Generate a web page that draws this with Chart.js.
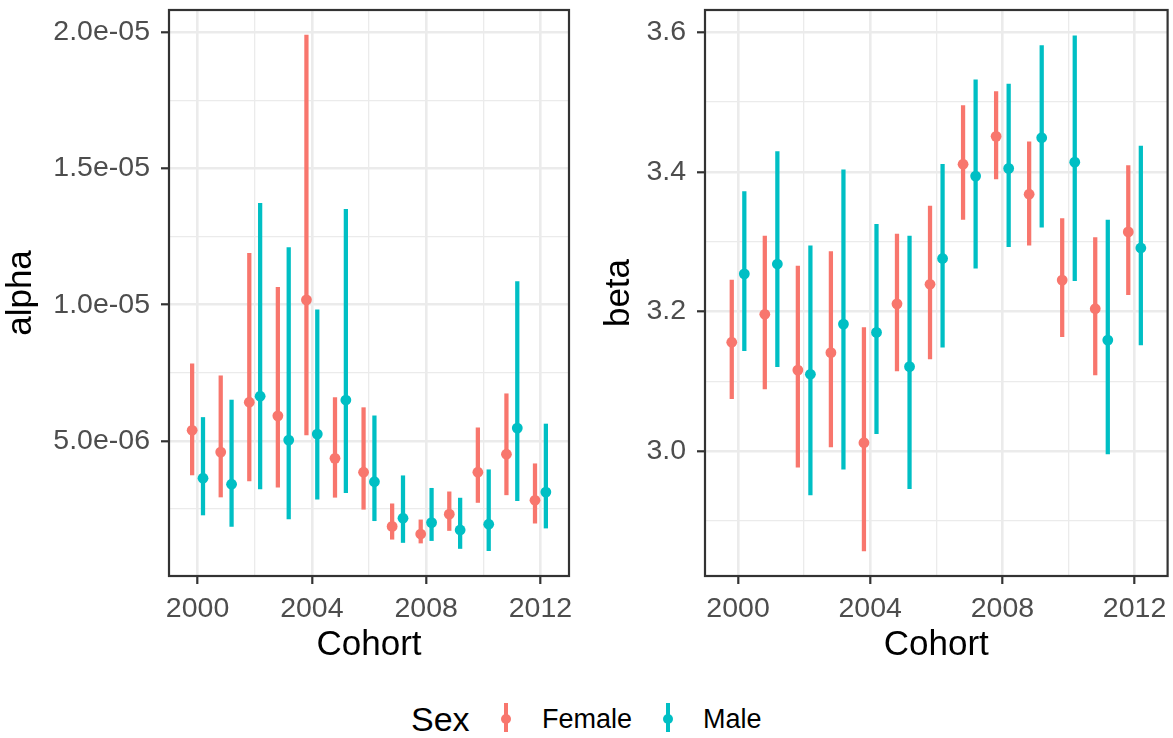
<!DOCTYPE html>
<html>
<head>
<meta charset="utf-8">
<script src="https://cdn.jsdelivr.net/npm/chart.js@4.4.1/dist/chart.umd.min.js"></script>
<style>
  body { margin: 0; background: #fff; width: 1173px; height: 738px; position: relative; overflow: hidden;
         font-family: "Liberation Sans", Arial, sans-serif; }
  canvas { position: absolute; top: 0; }
  #alphaChart { left: 0; }
  #betaChart { left: 585px; }
  .lab { position: absolute; height: 40px; line-height: 40px; top: 699px; white-space: nowrap; color: #000; }
  .keyLine { position: absolute; width: 4px; top: 703px; height: 29px; }
  .keyDot { position: absolute; width: 10px; height: 10px; border-radius: 50%; top: 714px; }
</style>
</head>
<body>
<canvas id="alphaChart" width="585" height="680"></canvas>
<canvas id="betaChart" width="588" height="680"></canvas>

<div class="lab" style="left:411px;font-size:34px;">Sex</div>
<div class="keyLine" style="left:504px;background:#F8766D"></div>
<div class="keyDot" style="left:501px;background:#F8766D"></div>
<div class="lab" style="left:542px;font-size:27px;">Female</div>
<div class="keyLine" style="left:666px;background:#00BFC4"></div>
<div class="keyDot" style="left:663px;background:#00BFC4"></div>
<div class="lab" style="left:703px;font-size:27px;">Male</div>

<script>
const cohorts = [2000, 2001, 2002, 2003, 2004, 2005, 2006, 2007, 2008, 2009, 2010, 2011, 2012];

// alpha estimates and interval ends
const alphaFemale   = [5.39e-6, 4.59e-6, 6.42e-6, 5.92e-6, 10.18e-6, 4.36e-6, 3.85e-6, 1.86e-6, 1.58e-6, 2.31e-6, 3.85e-6, 4.51e-6, 2.82e-6];
const alphaFemaleLo = [3.75e-6, 2.94e-6, 3.53e-6, 3.30e-6, 5.22e-6, 2.93e-6, 2.49e-6, 1.39e-6, 1.25e-6, 1.71e-6, 2.74e-6, 3.02e-6, 1.98e-6];
const alphaFemaleHi = [7.83e-6, 7.39e-6, 11.89e-6, 10.64e-6, 19.9e-6, 6.59e-6, 6.22e-6, 2.69e-6, 2.10e-6, 3.13e-6, 5.48e-6, 6.73e-6, 4.16e-6];
const alphaMale     = [3.63e-6, 3.41e-6, 6.64e-6, 5.03e-6, 5.25e-6, 6.50e-6, 3.50e-6, 2.16e-6, 2.00e-6, 1.73e-6, 1.94e-6, 5.47e-6, 3.12e-6];
const alphaMaleLo   = [2.28e-6, 1.86e-6, 3.24e-6, 2.14e-6, 2.86e-6, 3.10e-6, 2.07e-6, 1.27e-6, 1.34e-6, 1.05e-6, 0.97e-6, 2.81e-6, 1.80e-6];
const alphaMaleHi   = [5.86e-6, 6.50e-6, 13.72e-6, 12.10e-6, 9.81e-6, 13.50e-6, 5.92e-6, 3.72e-6, 3.26e-6, 2.90e-6, 3.94e-6, 10.85e-6, 5.62e-6];

// beta estimates and interval ends
const betaFemale   = [3.156, 3.196, 3.116, 3.141, 3.012, 3.211, 3.239, 3.411, 3.451, 3.368, 3.245, 3.204, 3.314];
const betaFemaleLo = [3.075, 3.089, 2.977, 3.006, 2.857, 3.115, 3.132, 3.332, 3.390, 3.295, 3.164, 3.109, 3.224];
const betaFemaleHi = [3.245, 3.308, 3.265, 3.286, 3.177, 3.311, 3.351, 3.495, 3.515, 3.443, 3.333, 3.306, 3.409];
const betaMale     = [3.254, 3.268, 3.110, 3.182, 3.170, 3.121, 3.276, 3.394, 3.405, 3.449, 3.414, 3.159, 3.291];
const betaMaleLo   = [3.144, 3.121, 2.937, 2.974, 3.025, 2.946, 3.149, 3.262, 3.293, 3.321, 3.244, 2.996, 3.152];
const betaMaleHi   = [3.372, 3.429, 3.294, 3.403, 3.325, 3.308, 3.411, 3.532, 3.526, 3.581, 3.595, 3.331, 3.437];

// ticks: labelled (major) and unlabelled (minor grid)
const xMajor = [2000, 2004, 2008, 2012];
const xMinor = [2002, 2006, 2010];
const alphaMajor = [5e-6, 1e-5, 1.5e-5, 2e-5];
const alphaMajorLabels = ['5.0e-06', '1.0e-05', '1.5e-05', '2.0e-05'];
const alphaMinor = [2.5e-6, 7.5e-6, 1.25e-5, 1.75e-5];
const betaMajor = [3.0, 3.2, 3.4, 3.6];
const betaMajorLabels = ['3.0', '3.2', '3.4', '3.6'];
const betaMinor = [2.9, 3.1, 3.3, 3.5];

const femaleColor = '#F8766D';
const maleColor = '#00BFC4';
const dodge = 0.19;
const fontFamily = '"Liberation Sans", Arial, sans-serif';

function tickList(major, labels, minor) {
  let t = major.map((v, i) => ({ value: v, lab: labels[i] }));
  t = t.concat(minor.map(v => ({ value: v, lab: '' })));
  return t.sort((a, b) => a.value - b.value);
}

function points(ys, shift) {
  return cohorts.map((c, i) => ({ x: c + shift, y: ys[i] }));
}
function ranges(lo, hi, shift) {
  return cohorts.map((c, i) => ({ x: c + shift, y: [lo[i], hi[i]] }));
}

const panelBorder = {
  id: 'panelBorder',
  afterDraw(chart) {
    const a = chart.chartArea;
    const ctx = chart.ctx;
    ctx.save();
    ctx.strokeStyle = '#333333';
    ctx.lineWidth = 2.2;
    ctx.strokeRect(a.left, a.top, a.right - a.left, a.bottom - a.top);
    ctx.restore();
  }
};

const isMajor = c => c.tick && c.tick.lab;
const gridOpts = {
  color: '#EBEBEB',
  lineWidth: c => isMajor(c) ? 2.6 : 1.3,
  tickColor: c => isMajor(c) ? '#333333' : 'rgba(0,0,0,0)',
  tickWidth: 2.2,
  tickLength: 8,
  offset: false
};

function makePanel(id, cfg) {
  new Chart(document.getElementById(id), {
    type: 'bar',
    data: {
      datasets: [
        { type: 'scatter', data: points(cfg.female, -dodge), backgroundColor: femaleColor, pointRadius: 5.4, pointBorderWidth: 0, order: 0 },
        { type: 'scatter', data: points(cfg.male, dodge), backgroundColor: maleColor, pointRadius: 5.4, pointBorderWidth: 0, order: 0 },
        { data: ranges(cfg.femaleLo, cfg.femaleHi, -dodge), backgroundColor: femaleColor, barThickness: 3.6, grouped: false, borderWidth: 0, order: 1 },
        { data: ranges(cfg.maleLo, cfg.maleHi, dodge), backgroundColor: maleColor, barThickness: 3.6, grouped: false, borderWidth: 0, order: 1 }
      ]
    },
    options: {
      responsive: false,
      animation: false,
      layout: { padding: { top: 10, right: cfg.padRight, left: 0, bottom: 0 } },
      plugins: { legend: { display: false }, tooltip: { enabled: false } },
      scales: {
        x: {
          type: 'linear', min: 1999, max: 2013, offset: false,
          afterBuildTicks: s => { s.ticks = tickList(xMajor, xMajor.map(String), xMinor); },
          afterFit: s => { s.height = 104; s.paddingLeft = 0; s.paddingRight = 0; },
          ticks: { callback: (v, i, t) => t[i].lab, color: '#4D4D4D', font: { size: 28.5, family: fontFamily },
                   padding: 8, maxRotation: 0, autoSkip: false },
          grid: gridOpts,
          border: { display: false },
          title: { display: true, text: 'Cohort', color: '#000', font: { size: 35, family: fontFamily },
                   padding: { top: 0, bottom: 14 } }
        },
        y: {
          type: 'linear', min: cfg.yMin, max: cfg.yMax,
          afterBuildTicks: s => { s.ticks = tickList(cfg.major, cfg.labels, cfg.minor); },
          afterFit: s => { s.width = cfg.yWidth; s.paddingTop = 0; s.paddingBottom = 0; },
          ticks: { callback: (v, i, t) => t[i].lab, color: '#4D4D4D', font: { size: 28.5, family: fontFamily },
                   padding: 11, autoSkip: false },
          grid: gridOpts,
          border: { display: false },
          title: { display: true, text: cfg.title, color: '#000', font: { size: 35, family: fontFamily },
                   padding: { top: cfg.titlePad, bottom: 0 } }
        }
      }
    },
    plugins: [panelBorder]
  });
}

makePanel('alphaChart', {
  female: alphaFemale, femaleLo: alphaFemaleLo, femaleHi: alphaFemaleHi,
  male: alphaMale, maleLo: alphaMaleLo, maleHi: alphaMaleHi,
  yMin: 0.04e-6, yMax: 20.82e-6,
  major: alphaMajor, labels: alphaMajorLabels, minor: alphaMinor,
  title: 'alpha', titlePad: 0, yWidth: 169, padRight: 16
});

makePanel('betaChart', {
  female: betaFemale, femaleLo: betaFemaleLo, femaleHi: betaFemaleHi,
  male: betaMale, maleLo: betaMaleLo, maleHi: betaMaleHi,
  yMin: 2.821, yMax: 3.632,
  major: betaMajor, labels: betaMajorLabels, minor: betaMinor,
  title: 'beta', titlePad: 13, yWidth: 120, padRight: 5
});
</script>
</body>
</html>
